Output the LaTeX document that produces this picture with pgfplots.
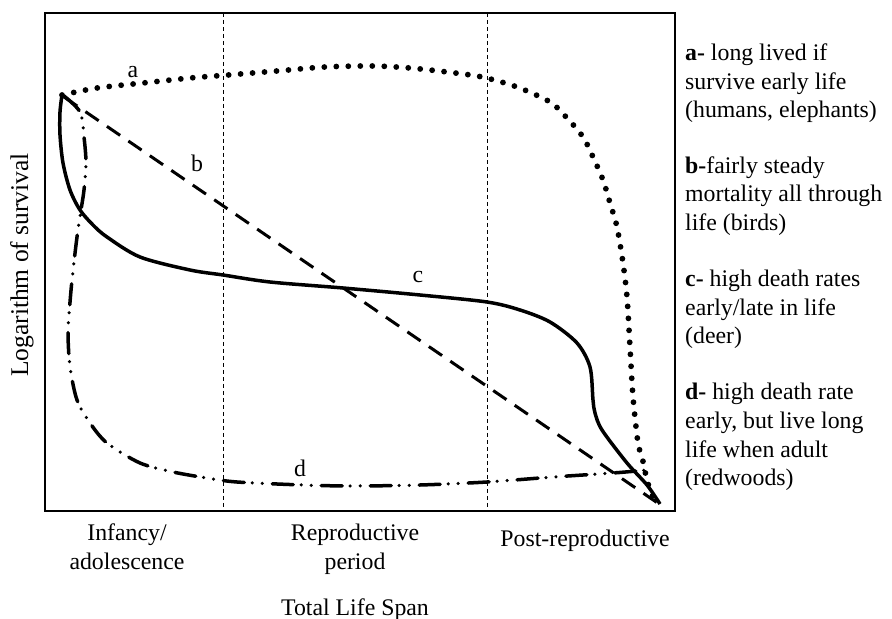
\documentclass[border=0pt]{standalone}
\usepackage{fontspec}
\setmainfont{Liberation Serif}
\usepackage{pgfplots}
\pgfplotsset{compat=1.18}
\tikzset{lab/.style={font=\fontsize{23.8bp}{28.5bp}\selectfont, inner sep=0pt}}
\begin{document}
\begin{tikzpicture}[x=1bp,y=1bp]
\useasboundingbox (0,0) rectangle (892,619);
\begin{axis}[
  at={(45bp,108bp)}, anchor=south west,
  width=630bp, height=498bp, scale only axis,
  xmin=45, xmax=675, ymin=13, ymax=511, y dir=reverse,
  axis line style={line width=2.6bp},
  xtick=\empty, ytick=\empty,
  clip=false,
]
% period separators
\addplot[black, line width=1bp, dash pattern=on 4bp off 3bp] coordinates {(223,13) (223,511)};
\addplot[black, line width=1bp, dash pattern=on 4bp off 3bp] coordinates {(487.5,13) (487.5,511)};
% a: dotted
\addplot[black, line width=5.8bp, line cap=round, dash pattern=on 0bp off 12bp, smooth, tension=0.5] coordinates {
(62,95) (97,88) (143,83) (190,78) (228,75) (277,71) (325,67) (373,66) (410,68) (447,72) (482,77) (517,87) (550,102) (567,118) (583,137) (593,157) (603,180) (610,203) (617,227) (623,263) (627,297) (630,347) (633,397) (638,443) (642,457) (647,480) (652,495) (657,505)};
% b: dashed straight
\addplot[black, line width=3bp, dash pattern=on 16bp off 10bp] coordinates {(64,97) (662,506)};
% c: solid
\addplot[black, line width=3.5bp, smooth, tension=0.5] coordinates {
(62,95) (60,112) (60,135) (63,163) (70,190) (80,210) (93,225) (107,237) (140,257) (190,270) (223,275) (270,282) (343,288) (420,295) (487,302) (520,310) (550,322) (577,343) (590,367) (593,400) (595,413) (602,430) (627,463) (647,485) (660,504)};
% d: dash-dot-dot
\addplot[black, line width=3.5bp, line cap=round, dash pattern=on 21bp off 8bp on 0bp off 10bp on 0bp off 10bp, smooth, tension=0.5] coordinates {
(64,96) (80,112) (84,137) (86,163) (84,190) (81,210) (77,237) (72,280) (69,315) (68,335) (70,367) (77,400) (90,423) (107,443) (140,463) (173,472) (207,478) (237,482) (303,485) (353,486) (420,485) (487,482) (553,477) (613,473) (648,470)};
% curve labels
\node[lab] at (axis cs:133,72) {a};
\node[lab] at (axis cs:197,163) {b};
\node[lab] at (axis cs:418,277) {c};
\node[lab] at (axis cs:300,468) {d};
% period labels
\node[lab, anchor=base] at (axis cs:127,540) {Infancy/};
\node[lab, anchor=base] at (axis cs:127,569) {adolescence};
\node[lab, anchor=base] at (axis cs:355,540) {Reproductive};
\node[lab, anchor=base] at (axis cs:355,569) {period};
\node[lab, anchor=base] at (axis cs:585,546) {Post-reproductive};
\node[lab, anchor=base] at (axis cs:355,615) {Total Life Span};
\node[lab, anchor=base, rotate=90, font=\fontsize{25.5bp}{30bp}\selectfont] at (axis cs:28,265) {Logarithm of survival};
% right-hand notes
\node[lab, anchor=base west] at (axis cs:685,60.7) {\textbf{a-} long lived if};
\node[lab, anchor=base west] at (axis cs:685,89.2) {survive early life};
\node[lab, anchor=base west] at (axis cs:685,117.7) {(humans, elephants)};
\node[lab, anchor=base west] at (axis cs:685,173.5) {\textbf{b-}fairly steady};
\node[lab, anchor=base west] at (axis cs:685,202) {mortality all through};
\node[lab, anchor=base west] at (axis cs:685,230.5) {life (birds)};
\node[lab, anchor=base west] at (axis cs:685,287) {\textbf{c-} high death rates};
\node[lab, anchor=base west] at (axis cs:685,315.5) {early/late in life};
\node[lab, anchor=base west] at (axis cs:685,344) {(deer)};
\node[lab, anchor=base west] at (axis cs:685,400) {\textbf{d-} high death rate};
\node[lab, anchor=base west] at (axis cs:685,428.5) {early, but live long};
\node[lab, anchor=base west] at (axis cs:685,457) {life when adult};
\node[lab, anchor=base west] at (axis cs:685,485.5) {(redwoods)};
\end{axis}
\end{tikzpicture}
\end{document}
